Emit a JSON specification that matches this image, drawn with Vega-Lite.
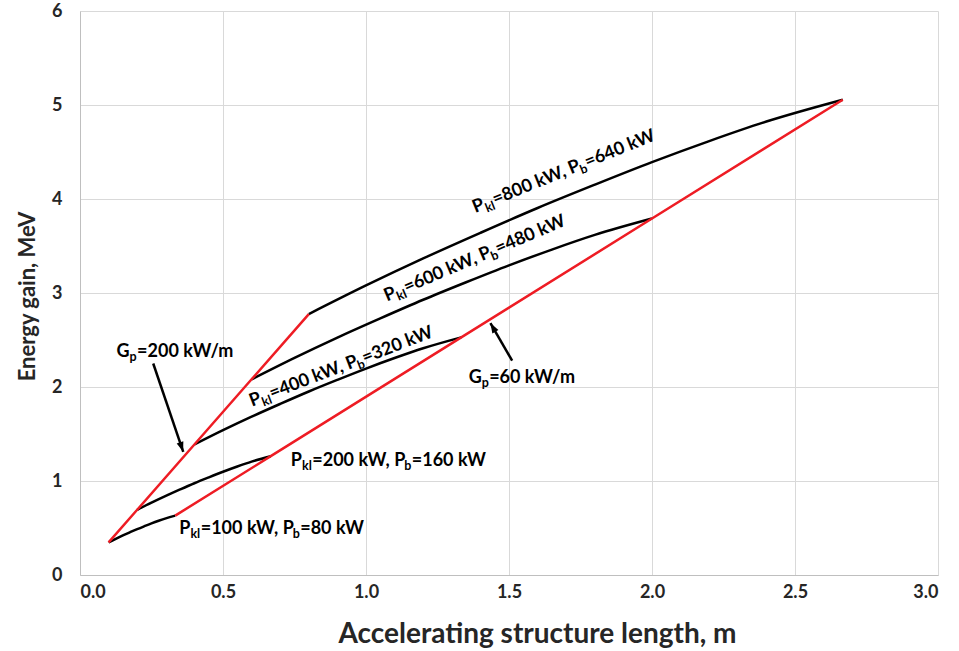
{
  "$schema": "https://vega.github.io/schema/vega-lite/v6.json",
  "width": 858,
  "height": 564,
  "autosize": "none",
  "padding": {"left": 80, "top": 11, "right": 21, "bottom": 76},
  "background": "white",
  "config": {
    "view": {"stroke": null},
    "font": "Lato",
    "axis": {
      "labelFont": "Lato", "labelFontWeight": "bold", "labelFontSize": 18, "labelColor": "#262626",
      "titleFont": "Lato", "titleFontWeight": "bold", "titleColor": "#262626",
      "gridColor": "#d9d9d9", "gridWidth": 1, "ticks": false, "domainColor": "#bfbfbf", "domainWidth": 1
    }
  },
  "datasets": {
    "curves": [
      {"s": "100", "t": "kl", "L": 0.1, "E": 0.347}, {"s": "100", "t": "kl", "L": 0.125, "E": 0.385}, {"s": "100", "t": "kl", "L": 0.15, "E": 0.421}, {"s": "100", "t": "kl", "L": 0.175, "E": 0.455}, {"s": "100", "t": "kl", "L": 0.2, "E": 0.488}, {"s": "100", "t": "kl", "L": 0.225, "E": 0.519}, {"s": "100", "t": "kl", "L": 0.25, "E": 0.549}, {"s": "100", "t": "kl", "L": 0.275, "E": 0.577}, {"s": "100", "t": "kl", "L": 0.3, "E": 0.603}, {"s": "100", "t": "kl", "L": 0.333, "E": 0.632},
      {"s": "200", "t": "kl", "L": 0.2, "E": 0.694}, {"s": "200", "t": "kl", "L": 0.25, "E": 0.77}, {"s": "200", "t": "kl", "L": 0.3, "E": 0.842}, {"s": "200", "t": "kl", "L": 0.35, "E": 0.91}, {"s": "200", "t": "kl", "L": 0.4, "E": 0.976}, {"s": "200", "t": "kl", "L": 0.45, "E": 1.038}, {"s": "200", "t": "kl", "L": 0.5, "E": 1.098}, {"s": "200", "t": "kl", "L": 0.55, "E": 1.154}, {"s": "200", "t": "kl", "L": 0.6, "E": 1.206}, {"s": "200", "t": "kl", "L": 0.667, "E": 1.264},
      {"s": "400", "t": "kl", "L": 0.4, "E": 1.388}, {"s": "400", "t": "kl", "L": 0.5, "E": 1.54}, {"s": "400", "t": "kl", "L": 0.6, "E": 1.684}, {"s": "400", "t": "kl", "L": 0.7, "E": 1.82}, {"s": "400", "t": "kl", "L": 0.8, "E": 1.952}, {"s": "400", "t": "kl", "L": 0.9, "E": 2.076}, {"s": "400", "t": "kl", "L": 1.0, "E": 2.196}, {"s": "400", "t": "kl", "L": 1.1, "E": 2.308}, {"s": "400", "t": "kl", "L": 1.2, "E": 2.412}, {"s": "400", "t": "kl", "L": 1.333, "E": 2.528},
      {"s": "600", "t": "kl", "L": 0.6, "E": 2.082}, {"s": "600", "t": "kl", "L": 0.75, "E": 2.31}, {"s": "600", "t": "kl", "L": 0.9, "E": 2.526}, {"s": "600", "t": "kl", "L": 1.05, "E": 2.73}, {"s": "600", "t": "kl", "L": 1.2, "E": 2.928}, {"s": "600", "t": "kl", "L": 1.35, "E": 3.114}, {"s": "600", "t": "kl", "L": 1.5, "E": 3.294}, {"s": "600", "t": "kl", "L": 1.65, "E": 3.462}, {"s": "600", "t": "kl", "L": 1.8, "E": 3.618}, {"s": "600", "t": "kl", "L": 2.0, "E": 3.792},
      {"s": "800", "t": "kl", "L": 0.8, "E": 2.776}, {"s": "800", "t": "kl", "L": 1.0, "E": 3.08}, {"s": "800", "t": "kl", "L": 1.2, "E": 3.368}, {"s": "800", "t": "kl", "L": 1.4, "E": 3.64}, {"s": "800", "t": "kl", "L": 1.6, "E": 3.904}, {"s": "800", "t": "kl", "L": 1.8, "E": 4.152}, {"s": "800", "t": "kl", "L": 2.0, "E": 4.392}, {"s": "800", "t": "kl", "L": 2.2, "E": 4.616}, {"s": "800", "t": "kl", "L": 2.4, "E": 4.824}, {"s": "800", "t": "kl", "L": 2.667, "E": 5.056},
      {"s": "G200", "t": "Gp", "L": 0.1, "E": 0.347}, {"s": "G200", "t": "Gp", "L": 0.2, "E": 0.694}, {"s": "G200", "t": "Gp", "L": 0.4, "E": 1.388}, {"s": "G200", "t": "Gp", "L": 0.6, "E": 2.082}, {"s": "G200", "t": "Gp", "L": 0.8, "E": 2.776},
      {"s": "G60", "t": "Gp", "L": 0.333, "E": 0.632}, {"s": "G60", "t": "Gp", "L": 0.667, "E": 1.264}, {"s": "G60", "t": "Gp", "L": 1.333, "E": 2.528}, {"s": "G60", "t": "Gp", "L": 2.0, "E": 3.792}, {"s": "G60", "t": "Gp", "L": 2.667, "E": 5.056}
    ],
    "plabels": [
      {"id": "100", "L": 0.347, "E": 0.433, "a": "=100 kW, P", "c": "=80 kW"},
      {"id": "200", "L": 0.737, "E": 1.16, "a": "=200 kW, P", "c": "=160 kW"},
      {"id": "400", "L": 0.601, "E": 1.79, "a": "=400 kW, P", "c": "=320 kW"},
      {"id": "600", "L": 1.073, "E": 2.91, "a": "=600 kW, P", "c": "=480 kW"},
      {"id": "800", "L": 1.382, "E": 3.85, "a": "=800 kW, P", "c": "=640 kW"}
    ],
    "glabels": [
      {"id": "g200", "L": 0.128, "E": 2.316, "a": "=200 kW/m"},
      {"id": "g60", "L": 1.359, "E": 2.046, "a": "=60 kW/m"}
    ],
    "arrows": [
      {"id": "a1", "L": 0.256, "E": 2.25, "L2": 0.361, "E2": 1.31},
      {"id": "a2", "L": 1.511, "E": 2.28, "L2": 1.435, "E2": 2.68}
    ]
  },
  "layer": [
    {
      "data": {"name": "curves"},
      "transform": [{"filter": "datum.t === 'kl'"}],
      "mark": {"type": "line", "color": "#000000", "strokeWidth": 2.5, "interpolate": "monotone"},
      "encoding": {
        "x": {"field": "L", "type": "quantitative", "scale": {"domain": [0, 3], "nice": false, "zero": false},
          "axis": {"values": [0, 0.5, 1, 1.5, 2, 2.5, 3], "format": ".1f", "labelPadding": 8, "labelBaseline": "top",
            "title": "Accelerating structure length, m", "titleFontSize": 28, "titleX": 457, "titleY": 67, "titleBaseline": "alphabetic", "titleAnchor": "middle", "titleAlign": "center"}},
        "y": {"field": "E", "type": "quantitative", "scale": {"domain": [0, 6], "nice": false},
          "axis": {"values": [0, 1, 2, 3, 4, 5, 6], "format": "d", "labelPadding": 18,
            "title": "Energy gain, MeV", "titleFontSize": 22, "titleX": -46, "titleY": 285, "titleBaseline": "alphabetic", "titleAlign": "center", "titleAngle": -90}},
        "detail": {"field": "s", "type": "nominal"}
      }
    },
    {
      "data": {"name": "curves"},
      "transform": [{"filter": "datum.t === 'Gp'"}],
      "mark": {"type": "line", "color": "#ee1c24", "strokeWidth": 2.5},
      "encoding": {
        "x": {"field": "L", "type": "quantitative"},
        "y": {"field": "E", "type": "quantitative"},
        "detail": {"field": "s", "type": "nominal"}
      }
    },
    {
      "data": {"name": "arrows"},
      "mark": {"type": "rule", "color": "#000000", "strokeWidth": 2.5},
      "encoding": {
        "x": {"field": "L", "type": "quantitative"},
        "y": {"field": "E", "type": "quantitative"},
        "x2": {"field": "L2"},
        "y2": {"field": "E2"}
      }
    },
    {
      "data": {"name": "arrows"},
      "mark": {"type": "point", "shape": "M0,0L-0.7,2L0.7,2Z", "filled": true, "color": "#000000", "opacity": 1, "size": 100},
      "encoding": {
        "x": {"field": "L2", "type": "quantitative"},
        "y": {"field": "E2", "type": "quantitative"},
        "angle": {"condition": {"test": "datum.id === 'a1'", "value": 161}, "value": 330}
      }
    },
    {
      "data": {"name": "plabels"},
      "mark": {"type": "text", "text": "P", "font": "Lato", "fontWeight": "bold", "fontSize": 18, "align": "left", "baseline": "alphabetic", "color": "#000000"},
      "encoding": {
        "x": {"field": "L", "type": "quantitative"},
        "y": {"field": "E", "type": "quantitative"},
        "angle": {"condition": [{"test": "datum.id === '100' || datum.id === '200'", "value": 0}, {"test": "datum.id === '600'", "value": 337}, {"test": "datum.id === '400'", "value": 339}], "value": 338}
      }
    },
    {
      "data": {"name": "plabels"},
      "mark": {"type": "text", "text": "kl", "font": "Lato", "fontWeight": "bold", "fontSize": 12.5, "align": "left", "baseline": "alphabetic", "color": "#000000", "dx": 11.2, "dy": 4},
      "encoding": {
        "x": {"field": "L", "type": "quantitative"},
        "y": {"field": "E", "type": "quantitative"},
        "angle": {"condition": [{"test": "datum.id === '100' || datum.id === '200'", "value": 0}, {"test": "datum.id === '600'", "value": 337}, {"test": "datum.id === '400'", "value": 339}], "value": 338}
      }
    },
    {
      "data": {"name": "plabels"},
      "mark": {"type": "text", "font": "Lato", "fontWeight": "bold", "fontSize": 18, "align": "left", "baseline": "alphabetic", "color": "#000000", "dx": 21.5},
      "encoding": {
        "x": {"field": "L", "type": "quantitative"},
        "y": {"field": "E", "type": "quantitative"},
        "text": {"field": "a", "type": "nominal"},
        "angle": {"condition": [{"test": "datum.id === '100' || datum.id === '200'", "value": 0}, {"test": "datum.id === '600'", "value": 337}, {"test": "datum.id === '400'", "value": 339}], "value": 338}
      }
    },
    {
      "data": {"name": "plabels"},
      "mark": {"type": "text", "text": "b", "font": "Lato", "fontWeight": "bold", "fontSize": 12.5, "align": "left", "baseline": "alphabetic", "color": "#000000", "dx": 113.5, "dy": 4},
      "encoding": {
        "x": {"field": "L", "type": "quantitative"},
        "y": {"field": "E", "type": "quantitative"},
        "angle": {"condition": [{"test": "datum.id === '100' || datum.id === '200'", "value": 0}, {"test": "datum.id === '600'", "value": 337}, {"test": "datum.id === '400'", "value": 339}], "value": 338}
      }
    },
    {
      "data": {"name": "plabels"},
      "mark": {"type": "text", "font": "Lato", "fontWeight": "bold", "fontSize": 18, "align": "left", "baseline": "alphabetic", "color": "#000000", "dx": 121},
      "encoding": {
        "x": {"field": "L", "type": "quantitative"},
        "y": {"field": "E", "type": "quantitative"},
        "text": {"field": "c", "type": "nominal"},
        "angle": {"condition": [{"test": "datum.id === '100' || datum.id === '200'", "value": 0}, {"test": "datum.id === '600'", "value": 337}, {"test": "datum.id === '400'", "value": 339}], "value": 338}
      }
    },
    {
      "data": {"name": "glabels"},
      "mark": {"type": "text", "text": "G", "font": "Lato", "fontWeight": "bold", "fontSize": 18, "align": "left", "baseline": "alphabetic", "color": "#000000"},
      "encoding": {
        "x": {"field": "L", "type": "quantitative"},
        "y": {"field": "E", "type": "quantitative"}
      }
    },
    {
      "data": {"name": "glabels"},
      "mark": {"type": "text", "text": "p", "font": "Lato", "fontWeight": "bold", "fontSize": 12.5, "align": "left", "baseline": "alphabetic", "color": "#000000", "dx": 13, "dy": 4},
      "encoding": {
        "x": {"field": "L", "type": "quantitative"},
        "y": {"field": "E", "type": "quantitative"}
      }
    },
    {
      "data": {"name": "glabels"},
      "mark": {"type": "text", "font": "Lato", "fontWeight": "bold", "fontSize": 18, "align": "left", "baseline": "alphabetic", "color": "#000000", "dx": 20.5},
      "encoding": {
        "x": {"field": "L", "type": "quantitative"},
        "y": {"field": "E", "type": "quantitative"},
        "text": {"field": "a", "type": "nominal"}
      }
    }
  ]
}
